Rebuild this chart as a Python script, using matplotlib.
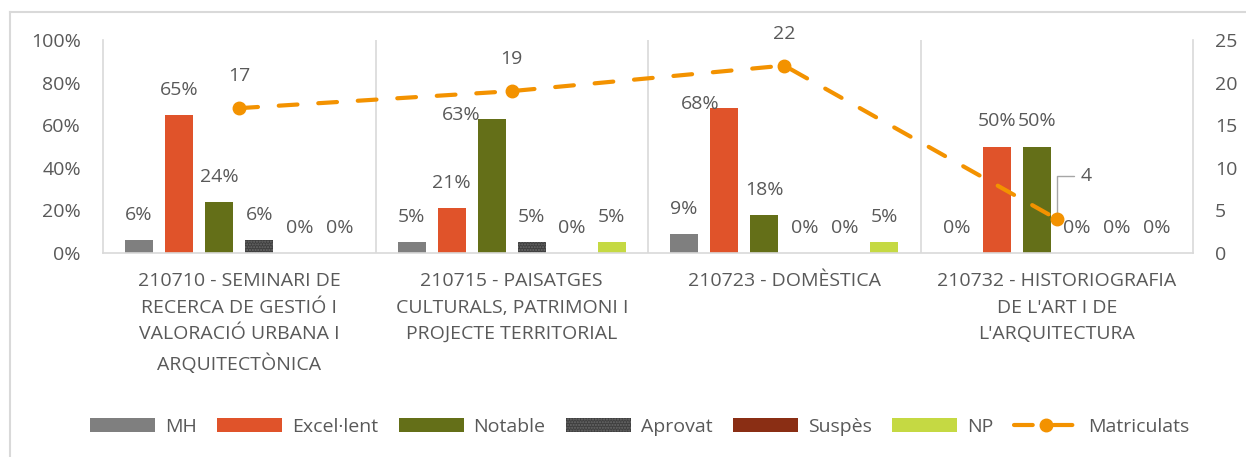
import matplotlib
matplotlib.use("Agg")
import matplotlib.pyplot as plt
from matplotlib.lines import Line2D
from matplotlib.ticker import PercentFormatter
import numpy as np

# data
categories = [
    "210710 - SEMINARI DE\nRECERCA DE GESTIÓ I\nVALORACIÓ URBANA I\nARQUITECTÒNICA",
    "210715 - PAISATGES\nCULTURALS, PATRIMONI I\nPROJECTE TERRITORIAL",
    "210723 - DOMÈSTICA",
    "210732 - HISTORIOGRAFIA\nDE L'ART I DE\nL'ARQUITECTURA",
]
series_names = ["MH", "Excel·lent", "Notable", "Aprovat", "Suspès", "NP"]
mh = [0.06, 0.05, 0.09, 0.00]
excellent = [0.65, 0.21, 0.68, 0.50]
notable = [0.24, 0.63, 0.18, 0.50]
aprovat = [0.06, 0.05, 0.00, 0.00]
suspes = [0.00, 0.00, 0.00, 0.00]
np_vals = [0.00, 0.05, 0.05, 0.00]
matriculats = [17, 19, 22, 4]

colors = ["#7f7f7f", "#e0532a", "#646f18", "#3f3f3f", "#8a2e14", "#c5d943"]
line_color = "#f39200"
txt = "#595959"
grid = "#d9d9d9"

plt.rcParams["font.family"] = ["Open Sans", "DejaVu Sans"]
fs = 14

fig = plt.figure(figsize=(12.46, 4.57), dpi=100)
ax = fig.add_axes([103 / 1246, 1 - 253 / 457, 1090 / 1246, 213 / 457])

x = np.arange(len(categories))
step = 0.147
width = 0.103
all_series = [mh, excellent, notable, aprovat, suspes, np_vals]

# label nudges for the two labels Excel moved aside (series, category) -> (dx, dy) px
nudges = {(2, 1): (-31, 4), (1, 2): (-24, 4)}

for i, (name, vals) in enumerate(zip(series_names, all_series)):
    pos = x + (i - 2.5) * step
    kw = {}
    if name == "Aprovat":
        kw = dict(hatch="......", edgecolor="#6a6a6a", linewidth=0)
    ax.bar(pos, vals, width, color=colors[i], label=name, zorder=2, **kw)
    for j, v in enumerate(vals):
        dx, dy = nudges.get((i, j), (0, 25))
        ax.annotate(f"{v * 100:.0f}%", (pos[j], v), xytext=(dx, dy),
                    textcoords="offset pixels", ha="center", va="center",
                    fontsize=fs, color=txt, zorder=5)

ax.set_xlim(-0.5, 3.5)
ax.set_ylim(0, 1)
ax.set_yticks(np.arange(0, 1.01, 0.2))
ax.yaxis.set_major_formatter(PercentFormatter(1.0, decimals=0))
for xs in [0.5, 1.5, 2.5]:
    ax.axvline(xs, color=grid, lw=1.2, zorder=1)
ax.set_xticks(x)
ax.set_xticklabels(categories, fontsize=fs, color=txt, linespacing=1.6)
ax.tick_params(axis="x", length=0, pad=14)
ax.tick_params(axis="y", length=0, pad=16, labelsize=fs, labelcolor=txt)
for s in ["left", "right", "bottom"]:
    ax.spines[s].set_color(grid)
    ax.spines[s].set_linewidth(1.2)
ax.spines["top"].set_visible(False)

ax2 = ax.twinx()
ax2.set_ylim(0, 25)
ax2.set_yticks(range(0, 26, 5))
ax2.tick_params(axis="y", length=0, pad=16, labelsize=fs, labelcolor=txt)
for s in ax2.spines.values():
    s.set_visible(False)
ax2.plot(x, matriculats, color=line_color, lw=3, dashes=(4.5, 5),
         dash_capstyle="round", marker="o", markersize=9, label="Matriculats", zorder=4)
for j, v in enumerate(matriculats):
    if j == 3:
        ax2.annotate(str(v), (x[j], v), xytext=(24, 43), textcoords="offset pixels",
                     ha="left", va="center", fontsize=fs, color=txt,
                     arrowprops=dict(arrowstyle="-", color="#a6a6a6", lw=1,
                                     connectionstyle="angle,angleA=0,angleB=90,rad=0",
                                     relpos=(0, 0.5), shrinkA=3, shrinkB=0))
    else:
        ax2.annotate(str(v), (x[j], v), xytext=(0, 32), textcoords="offset pixels",
                     ha="center", va="center", fontsize=fs, color=txt)

h1, l1 = ax.get_legend_handles_labels()
h2, l2 = ax2.get_legend_handles_labels()
leg = fig.legend(h1 + h2, l1 + l2, loc="center", bbox_to_anchor=(640 / 1246, 1 - 427 / 457),
                 ncol=7, frameon=False, fontsize=fs, handlelength=3.35, handleheight=0.75,
                 handletextpad=0.5, columnspacing=1.05)
for t in leg.get_texts():
    t.set_color(txt)

# outer chart border (left and top visible in the crop)
fig.add_artist(Line2D([10 / 1246, 10 / 1246], [0, 1 - 12 / 457], color=grid, lw=1.5))
fig.add_artist(Line2D([10 / 1246, 1], [1 - 12 / 457, 1 - 12 / 457], color=grid, lw=1.5))

fig.savefig("out.png", dpi=100)
